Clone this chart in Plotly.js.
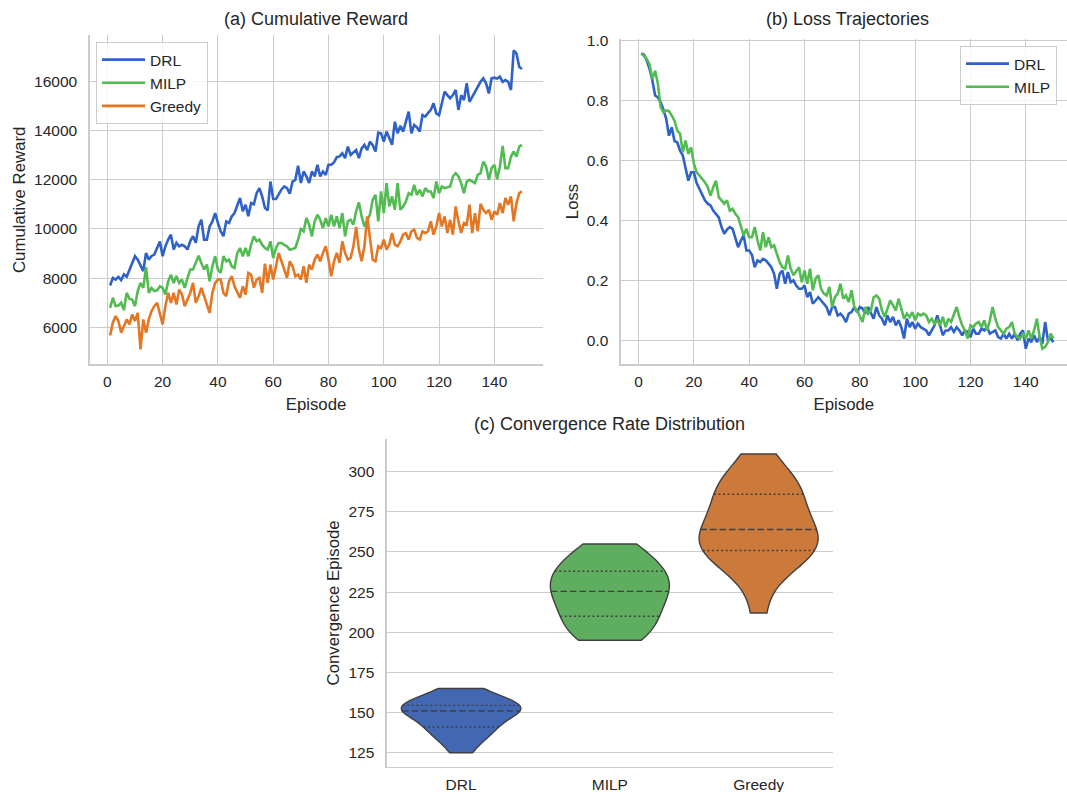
<!DOCTYPE html>
<html>
<head>
<meta charset="utf-8">
<script src="https://cdn.plot.ly/plotly-3.0.1.min.js"></script>
<style>html,body{margin:0;padding:0;background:#fff}#chart{width:1067px;height:792px}</style>
</head>
<body>
<div id="chart"></div>
<script>
// ---------------- data ----------------
const episodes = Array.from({length: 150}, (_, i) => i + 1);

const rewardDRL = [
7700,8010,7940,8050,7920,8150,8050,8350,8600,8890,8750,8480,8280,9020,8750,8900,8955,9225,9490,8890,
9290,9560,9760,9160,9430,9290,9350,9290,9160,9500,9700,9430,10100,10370,9560,9560,10100,10300,10640,10240,
9900,9700,10300,10240,10500,10640,10910,11250,
10710,10980,10510,11050,11000,11450,11650,11320,10850,10750,11920,11210,11210,11430,11600,11720,11650,11430,11920,11990,
12560,11860,12330,12130,11860,12330,12130,12600,12130,12330,12190,12600,12600,12700,12910,12940,13070,12870,13340,13000,
13100,13200,12870,13270,13410,13200,13540,13400,13140,13910,
13880,13540,13950,13680,13410,14350,13880,14180,13950,14350,14760,13880,14220,14120,13950,14620,14560,14700,14830,15100,
14690,14620,15100,15570,15430,15300,15430,15640,14830,15430,15230,15910,15160,15370,15600,15770,15970,16110,15910,15500,
16110,16140,16100,16180,15970,16040,15970,15640,17250,17120,16580,16490];

const rewardMILP = [
6790,7200,6860,6880,7000,6700,7400,7160,7130,6860,7470,7800,7600,8440,7400,7600,7470,7500,7670,7600,
7330,7870,8140,7800,8080,7800,7940,7600,8000,8350,8350,8610,8910,8610,8350,8550,7870,8480,8890,8350,
8210,8890,8680,8750,8480,8410,9020,9220,
8885,9223,8885,9358,9695,9493,9560,9358,9223,9155,9493,8818,9223,9425,9425,9350,9290,9155,9182,9223,
9560,9992,9898,10438,10168,9695,10303,10573,10370,10033,10438,10100,10573,10100,10505,10033,10640,9695,10303,10370,
10168,10708,11072,10505,10100,10370,10573,11180,11383,10303,
11518,10640,11855,10910,11315,10775,11855,10775,10910,11113,11450,11383,11788,11383,11585,11315,11653,11518,11518,11248,
11923,11450,11720,11653,11680,11720,12125,12260,12125,11855,11450,11923,11990,11923,11855,12193,12260,12733,12530,11990,
12463,12598,12017,12530,13367,12463,12463,12935,13138,12935,13340,13408];

const rewardGreedy = [
5672,6185,6455,6253,5780,6050,6320,6118,6523,6253,6590,5105,6320,5780,6320,6658,6860,6995,6523,6118,
6860,7400,6995,7400,6928,7535,7333,6860,7130,7400,7805,6995,7265,7603,7265,6928,6590,7400,7805,7940,
7940,7400,7265,7873,8075,7670,7400,7198,
7670,7333,8210,8143,7603,7940,8008,7400,8588,7805,8548,7940,8480,9020,8683,8345,8008,8683,8480,8075,
8143,7940,8480,7805,8548,8345,8750,8953,8683,9020,9290,8750,8075,8683,9020,8615,9493,9020,8750,8818,
9290,10073,9155,8683,9290,10505,9560,8750,8683,9290,
9223,9560,9155,9358,9830,9358,9290,9493,9763,9830,9560,9898,9965,9628,9560,9898,9830,9898,10303,9763,
10100,10640,10100,10505,9830,10370,9763,10910,10303,9830,10235,10168,10978,9830,10640,9898,11018,10775,10640,10775,
10370,10708,10573,11045,10640,11248,10978,11315,10303,11045,11450,11518];

const lossDRL = [
0.958,0.953,0.933,0.905,0.867,0.817,0.811,0.794,0.770,0.739,0.683,0.711,0.665,0.661,0.633,0.617,0.575,0.533,0.561,0.561,
0.525,0.506,0.489,0.467,0.456,0.450,0.433,0.422,0.410,0.378,0.356,0.370,0.378,0.372,0.344,0.311,0.333,0.350,0.300,0.300,
0.285,0.244,0.267,0.261,0.272,0.267,0.256,0.244,
0.222,0.172,0.222,0.233,0.189,0.228,0.194,0.200,0.183,0.172,0.172,0.183,0.144,0.161,0.122,0.133,0.144,0.133,0.122,0.111,
0.083,0.111,0.111,0.083,0.089,0.078,0.061,0.089,0.094,0.111,0.094,0.111,0.106,0.089,0.111,0.094,0.072,0.111,0.083,0.072,
0.050,0.083,0.061,0.078,0.050,0.067,0.044,0.006,0.072,0.044,
0.061,0.039,0.056,0.044,0.039,0.033,0.017,0.033,0.050,0.083,0.050,0.017,0.033,0.033,0.044,0.028,0.044,0.033,
0.017,0.033,0.028,0.011,0.039,0.022,0.022,0.039,0.033,0.044,0.022,0.028,0.033,0.011,0.006,0.022,0.006,0.022,
0.006,0.022,0.000,0.022,0.033,-0.028,0.006,-0.006,0.017,-0.006,0.011,-0.011,0.061,0.000,0.006,-0.006];

const lossMILP = [
0.958,0.950,0.939,0.920,0.872,0.900,0.856,0.778,0.761,0.767,0.765,0.750,0.733,0.700,0.690,0.628,0.667,0.622,0.644,0.590,
0.561,0.550,0.539,0.528,0.511,0.483,0.511,0.533,0.478,0.467,0.456,0.467,0.433,0.439,0.422,0.411,0.383,0.350,0.372,0.344,
0.344,0.378,0.333,0.300,0.361,0.311,0.344,0.311,
0.317,0.289,0.261,0.244,0.239,0.283,0.239,0.217,0.233,0.244,0.194,0.233,0.189,0.239,0.167,0.206,0.217,0.172,0.156,0.150,
0.178,0.111,0.144,0.156,0.189,0.139,0.150,0.128,0.167,0.111,0.100,0.083,0.061,0.111,0.089,0.100,0.144,0.150,0.139,0.100,
0.078,0.106,0.133,0.117,0.100,0.139,0.106,0.072,0.089,0.078,
0.094,0.067,0.089,0.083,0.089,0.083,0.061,0.072,0.056,0.067,0.050,0.078,0.044,0.072,0.061,0.083,0.111,0.078,0.050,0.033,
0.006,0.050,0.044,0.056,0.061,0.044,0.067,0.033,0.067,0.111,0.072,0.044,0.033,0.022,0.039,0.044,0.061,0.022,0.011,0.006,
0.022,0.006,0.033,0.006,0.033,0.072,0.011,-0.028,-0.022,-0.006,0.022,0.006];

const methods = ['DRL', 'MILP', 'Greedy'];
const convDRL = [125,131,135,137.5,140,141.3,144,146.5,149,150.5,151.5,152.3,153,153.6,154,156,157.5,159.5,162,165];
const convMILP = [195,196.5,199.5,203.5,209,210.3,214,218,221.5,224.5,226.5,229,231.5,234.5,237.5,239.5,243,247,251,255];
const convGreedy = [212,236,242,246.5,250,251.3,253.5,256,259.5,263,265,268,273,279,285,289,291,294,298,311];

// ---------------- style ----------------
const FONT = 'Liberation Sans, Arial, Helvetica, sans-serif';
const INK = '#262626';
const GRID = '#cccccc';
const lineColors = {DRL: '#2f62c8', MILP: '#52bb52', Greedy: '#e47724'};
const violinColors = {DRL: '#4268b3', MILP: '#5fae5f', Greedy: '#cc7a3c'};
const EDGE = '#404040';

// ---------------- helpers for violins ----------------
function quantile(arr, p) {
  const s = [...arr].sort((a, b) => a - b);
  const idx = (s.length - 1) * p, lo = Math.floor(idx), hi = Math.ceil(idx);
  return s[lo] + (s[hi] - s[lo]) * (idx - lo);
}
function sd(arr) {
  const m = arr.reduce((a, b) => a + b, 0) / arr.length;
  return Math.sqrt(arr.reduce((a, b) => a + (b - m) * (b - m), 0) / (arr.length - 1));
}
function scottBw(arr) { return sd(arr) * Math.pow(arr.length, -0.2); }
function kde(arr, bw, x) {
  let s = 0;
  for (const v of arr) { const u = (x - v) / bw; s += Math.exp(-0.5 * u * u); }
  return s / (arr.length * bw * Math.sqrt(2 * Math.PI));
}
function maxKde(arr, bw) {
  const lo = Math.min(...arr), hi = Math.max(...arr);
  const n = Math.ceil((hi - lo) / (bw / 3)), step = (hi - lo) / n;
  let m = 0;
  for (let k = 0; k <= n; k++) m = Math.max(m, kde(arr, bw, lo + k * step));
  return m;
}

const traces = [];

// (a) cumulative reward
[['DRL', rewardDRL], ['MILP', rewardMILP], ['Greedy', rewardGreedy]].forEach(([name, vals]) => {
  traces.push({type: 'scatter', mode: 'lines', x: episodes, y: vals, name: name,
    line: {color: lineColors[name], width: 2.6}, xaxis: 'x', yaxis: 'y', legend: 'legend', hoverinfo: 'skip'});
});
// (b) loss
[['DRL', lossDRL], ['MILP', lossMILP]].forEach(([name, vals]) => {
  traces.push({type: 'scatter', mode: 'lines', x: episodes, y: vals, name: name,
    line: {color: lineColors[name], width: 2.6}, xaxis: 'x2', yaxis: 'y2', legend: 'legend2', hoverinfo: 'skip'});
});
// (c) violins
const HALF = 0.4;
[convDRL, convMILP, convGreedy].forEach((vals, i) => {
  const name = methods[i];
  const bw = scottBw(vals);
  traces.push({type: 'violin', x0: i, y: vals, name: name, showlegend: false,
    spanmode: 'hard', bandwidth: bw, scalemode: 'width', width: 2 * HALF, side: 'both',
    points: false, box: {visible: false}, meanline: {visible: false},
    fillcolor: violinColors[name], opacity: 1, line: {color: EDGE, width: 1.4},
    xaxis: 'x3', yaxis: 'y3', hoverinfo: 'skip'});
  const mk = maxKde(vals, bw);
  [[0.25, '2px,2.6px'], [0.5, '6.5px,3px'], [0.75, '2px,2.6px']].forEach(([p, dash]) => {
    const q = quantile(vals, p);
    const h = HALF * kde(vals, bw, q) / mk;
    traces.push({type: 'scatter', mode: 'lines', x: [i - h, i + h], y: [q, q], showlegend: false,
      line: {color: EDGE, width: 1.4, dash: dash}, xaxis: 'x3', yaxis: 'y3', hoverinfo: 'skip'});
  });
});

// ---------------- layout ----------------
const tickfont = {family: FONT, size: 15.5, color: INK};
const titlefont = {family: FONT, size: 16.8, color: INK};
function ax(extra) {
  return Object.assign({showgrid: true, gridcolor: GRID, gridwidth: 1, showline: true, linecolor: GRID,
    linewidth: 1.25, zeroline: false, ticks: '', tickfont: tickfont}, extra);
}
const XSTAND = 3, YSTAND = 8;
const W = 1067, H = 792;
const px = v => v / W, py = v => 1 - v / H;

const legendBase = {bgcolor: 'rgba(255,255,255,0.8)', bordercolor: GRID, borderwidth: 1, itemwidth: 43,
  font: {family: FONT, size: 15.5, color: INK}};

const layout = {
  width: W, height: H,
  margin: {l: 0, r: 0, t: 0, b: 0},
  paper_bgcolor: '#ffffff', plot_bgcolor: '#ffffff',
  font: {family: FONT, color: INK},
  xaxis: ax({domain: [px(89.5), px(542.6)], range: [-6.45, 157.45], tick0: 0, dtick: 20, anchor: 'y', ticklabelstandoff: XSTAND,
    title: {text: 'Episode', font: titlefont, standoff: 9}}),
  yaxis: ax({domain: [py(364.3), py(35.3)], range: [4498, 17860], tick0: 0, dtick: 2000, tickformat: 'd', anchor: 'x', ticklabelstandoff: YSTAND,
    title: {text: 'Cumulative Reward', font: titlefont, standoff: 4}}),
  xaxis2: ax({domain: [px(620.7), 1], range: [-6.45, 154.9], tick0: 0, dtick: 20, anchor: 'y2', ticklabelstandoff: XSTAND,
    title: {text: 'Episode', font: titlefont, standoff: 9}}),
  yaxis2: ax({domain: [py(364.3), py(38.6)], range: [-0.08, 1.007], tick0: 0, dtick: 0.2, tickformat: '.1f', anchor: 'x2', ticklabelstandoff: YSTAND,
    title: {text: 'Loss', font: titlefont, standoff: 4}}),
  xaxis3: ax({domain: [px(386.7), px(833)], range: [-0.5, 2.5], showgrid: false, tickvals: [0, 1, 2], ticktext: methods, anchor: 'y3', ticklabelstandoff: XSTAND}),
  yaxis3: ax({domain: [py(766.7), py(439.1)], range: [116.3, 320.3], tick0: 0, dtick: 25, anchor: 'x3', ticklabelstandoff: YSTAND,
    title: {text: 'Convergence Episode', font: titlefont, standoff: 4}}),
  legend: Object.assign({x: px(96), y: py(42), xanchor: 'left', yanchor: 'top'}, legendBase),
  legend2: Object.assign({x: px(1057), y: py(46), xanchor: 'right', yanchor: 'top'}, legendBase),
  annotations: [
    {text: '(a) Cumulative Reward', xref: 'paper', yref: 'paper', x: (px(89.5) + px(542.6)) / 2, y: py(19), xanchor: 'center', yanchor: 'middle', showarrow: false, font: {family: FONT, size: 18, color: INK}},
    {text: '(b) Loss Trajectories', xref: 'paper', yref: 'paper', x: px(847.5), y: py(19), xanchor: 'center', yanchor: 'middle', showarrow: false, font: {family: FONT, size: 18, color: INK}},
    {text: '(c) Convergence Rate Distribution', xref: 'paper', yref: 'paper', x: (px(386.7) + px(833)) / 2, y: py(424), xanchor: 'center', yanchor: 'middle', showarrow: false, font: {family: FONT, size: 18, color: INK}}
  ],
  showlegend: true
};

Plotly.newPlot('chart', traces, layout, {displayModeBar: false, staticPlot: true});
</script>
</body>
</html>
